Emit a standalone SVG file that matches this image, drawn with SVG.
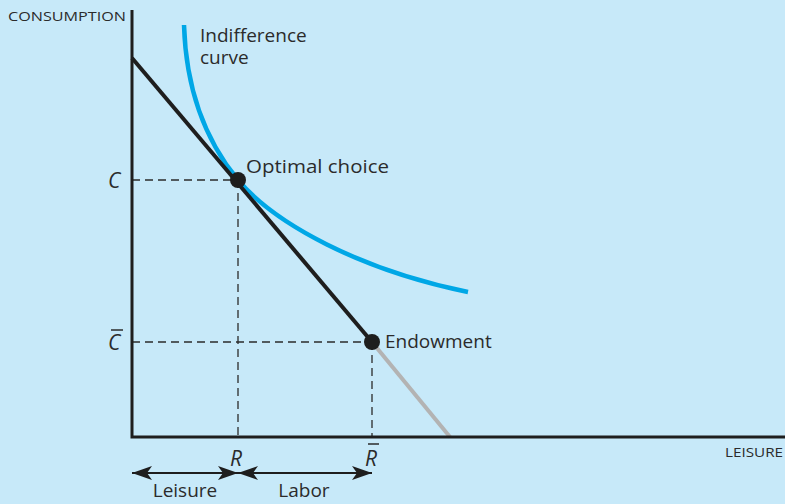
<svg xmlns="http://www.w3.org/2000/svg" width="785" height="504" viewBox="0 0 785 504">
<style>
.t{font-family:"Open Sans","Noto Sans",sans-serif;fill:#2b2b2b}
.it{font-family:"Open Sans","Noto Sans",sans-serif;font-style:italic;fill:#2b2b2b;font-size:21px}
.dash{stroke:#2b2b2b;stroke-width:1.3;stroke-dasharray:8,5;fill:none}
</style>
<defs>
<marker id="ah" viewBox="0 0 20 14" refX="20" refY="7" markerWidth="20" markerHeight="14" markerUnits="userSpaceOnUse" orient="auto-start-reverse">
<path d="M0,0 L20,7 L0,14 L5,7 Z" fill="#1e1e1e"/>
</marker>
</defs>
<rect width="785" height="504" fill="#c7e9f9"/>
<g id="connectors">
<line class="dash" x1="132" y1="180" x2="238" y2="180"/>
<line class="dash" x1="238" y1="180" x2="238" y2="437"/>
<line class="dash" x1="132" y1="342" x2="372" y2="342"/>
<line class="dash" x1="372" y1="342" x2="372" y2="437"/>
<line x1="372" y1="342" x2="450" y2="437" stroke="#b3b3b3" stroke-width="4"/>
<path d="M184,25 C186,90 205,140 238,180 C275,224 360,270 468,292" fill="none" stroke="#00a7e6" stroke-width="4.5"/>
<line x1="132" y1="58" x2="372" y2="342" stroke="#1e1e1e" stroke-width="4"/>
<line x1="132" y1="473" x2="238" y2="473" stroke="#1e1e1e" stroke-width="1.8" marker-start="url(#ah)" marker-end="url(#ah)"/>
<line x1="238" y1="473" x2="372" y2="473" stroke="#1e1e1e" stroke-width="1.8" marker-start="url(#ah)" marker-end="url(#ah)"/>
</g>
<g id="axes">
<path d="M132,10 L132,437 L785,437" fill="none" stroke="#1e1e1e" stroke-width="3"/>
<text class="t" x="8" y="21" font-size="13" textLength="118" lengthAdjust="spacingAndGlyphs">CONSUMPTION</text>
<text class="t" x="725" y="457" font-size="13" textLength="58" lengthAdjust="spacingAndGlyphs">LEISURE</text>
</g>
<g id="indifference">
<text class="t" x="200" y="42" font-size="19">Indifference</text>
<text class="t" x="200" y="64" font-size="19">curve</text>
</g>
<g id="optimal">
<circle cx="238" cy="180" r="8" fill="#1e1e1e"/>
<text class="t" x="246" y="173" font-size="19" textLength="143" lengthAdjust="spacingAndGlyphs">Optimal choice</text>
</g>
<g id="endowment">
<circle cx="372" cy="342" r="8" fill="#1e1e1e"/>
<text class="t" x="385" y="348" font-size="19">Endowment</text>
</g>
<g id="labels">
<text class="it" x="108" y="188">C</text>
<text class="it" x="108" y="350">C</text>
<line x1="111" y1="330" x2="123" y2="330" stroke="#2b2b2b" stroke-width="1.5"/>
<text class="it" x="230" y="466">R</text>
<text class="it" x="365" y="466">R</text>
<line x1="368" y1="444" x2="379" y2="444" stroke="#2b2b2b" stroke-width="1.5"/>
<text class="t" x="185" y="497" font-size="19" text-anchor="middle">Leisure</text>
<text class="t" x="304" y="497" font-size="19" text-anchor="middle">Labor</text>
</g>
</svg>
